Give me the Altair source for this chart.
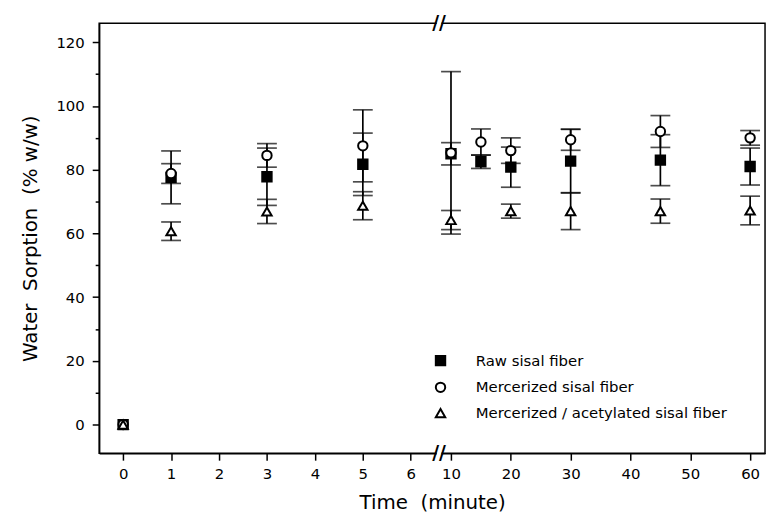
import altair as alt
import pandas as pd

series_names = ["Raw sisal fiber", "Mercerized sisal fiber", "Mercerized / acetylated sisal fiber"]

raw_time = [0, 1, 3, 5, 10, 15, 20, 30, 45, 60]
raw_value = [0, 77.6, 77.8, 81.7, 85.0, 82.5, 80.8, 82.7, 83.0, 81.0]
raw_err = [0, 8.3, 9.0, 9.8, 3.5, 2.1, 6.3, 10.0, 8.0, 5.8]

merc_time = [0, 1, 3, 5, 10, 15, 20, 30, 45, 60]
merc_value = [0, 78.8, 84.5, 87.5, 85.3, 88.7, 86.0, 89.4, 92.0, 90.0]
merc_err = [0, 3.1, 3.7, 11.3, 25.5, 4.1, 4.0, 3.3, 5.0, 2.3]

acet_time = [0, 1, 3, 5, 10, 20, 30, 45, 60]
acet_value = [0, 60.7, 66.9, 68.7, 64.2, 67.0, 67.0, 67.0, 67.2]
acet_err = [0, 2.9, 3.8, 4.4, 3.0, 2.2, 5.8, 3.8, 4.5]

tick_times = [0, 1, 2, 3, 4, 5, 6, 10, 20, 30, 40, 50, 60]
y_major = [0, 20, 40, 60, 80, 100, 120]
y_minor = [10, 30, 50, 70, 90, 110]

# broken time axis: 0-6 min linear, then 10-60 min compressed
SEG2_START = 6.839
SEG2_SCALE = 0.1248


def to_pos(t):
    return t if t <= 6.5 else SEG2_START + (t - 10) * SEG2_SCALE


rows = []
for name, ts, vs, es in [
    (series_names[0], raw_time, raw_value, raw_err),
    (series_names[1], merc_time, merc_value, merc_err),
    (series_names[2], acet_time, acet_value, acet_err),
]:
    for t, v, e in zip(ts, vs, es):
        rows.append({"series": name, "t": t, "pos": to_pos(t), "value": v,
                     "err": e, "lo": v - e, "hi": v + e})
df = pd.DataFrame(rows)

break_pos = 6.59
brk = pd.DataFrame({"pos": [break_pos], "a": [break_pos - 0.05], "b": [break_pos + 0.05]})

x_scale = alt.Scale(domain=[-0.5, 13.39], nice=False, zero=False)
y_scale = alt.Scale(domain=[-9, 126], nice=False, zero=False)

x_axis = alt.Axis(
    values=[to_pos(t) for t in tick_times],
    labelExpr=f"datum.value < 6.5 ? format(round(datum.value), 'd') : format(round(10 + (datum.value - {SEG2_START}) / {SEG2_SCALE}), 'd')",
    tickSize=7, labelPadding=6, titlePadding=12, grid=False,
)
X_TITLE = "Time\u00a0 (minute)"
Y_TITLE = "Water\u00a0 Sorption\u00a0 (% w/w)"


def xenc(field="pos"):
    return alt.X(f"{field}:Q", scale=x_scale, axis=x_axis, title=X_TITLE)


bars = alt.Chart(df).transform_filter("datum.err > 0").mark_errorbar(
    ticks=True, size=20, thickness=1.7, color="black"
).encode(
    x=xenc(),
    y=alt.Y("lo:Q", scale=y_scale, title=Y_TITLE,
            axis=alt.Axis(values=y_major, orient="left", tickSize=7, labelPadding=8,
                          titlePadding=16, grid=False)),
    y2="hi:Q",
)

legend = alt.Legend(
    title=None, orient="none", legendX=337, legendY=333, padding=0,
    labelFontSize=15, labelFont="DejaVu Sans", labelColor="black", labelLimit=0,
    labelOffset=28, rowPadding=8, symbolStrokeWidth=2,
    symbolSize=90, symbolOpacity=1,
)

points = alt.Chart(df).transform_calculate(
    idx="indexof(['Raw sisal fiber','Mercerized sisal fiber','Mercerized / acetylated sisal fiber'], datum.series)"
).mark_point(filled=False, strokeWidth=2, size=90, opacity=1).encode(
    x=xenc(),
    y=alt.Y("value:Q", scale=y_scale, axis=None),
    shape=alt.Shape("series:N", scale=alt.Scale(domain=series_names, range=["square", "circle", "triangle-up"]), legend=legend),
    fill=alt.Fill("series:N", scale=alt.Scale(domain=series_names, range=["black", "white", "white"]), legend=legend),
    stroke=alt.Stroke("series:N", scale=alt.Scale(domain=series_names, range=["black", "black", "black"]), legend=legend),
    order=alt.Order("idx:Q"),
)

minor = alt.Chart(pd.DataFrame({"v": y_minor})).mark_point(opacity=0).encode(
    y=alt.Y("v:Q", scale=y_scale,
            axis=alt.Axis(values=y_minor, orient="left", labels=False, domain=False, tickSize=4,
                          title=None, grid=False)),
)

gap_bottom = alt.Chart(brk).mark_rule(color="white", strokeWidth=5).encode(
    x=xenc("a"), x2="b:Q", y=alt.value(434))
gap_top = alt.Chart(brk).mark_rule(color="white", strokeWidth=5).encode(
    x=xenc("a"), x2="b:Q", y=alt.value(0))
slash_bottom = alt.Chart(brk).mark_text(text="//", fontSize=19, fontWeight="bold", font="DejaVu Sans",
                                        color="black", baseline="middle").encode(
    x=xenc(), y=alt.value(434))
slash_top = alt.Chart(brk).mark_text(text="//", fontSize=19, fontWeight="bold", font="DejaVu Sans",
                                     color="black", baseline="middle").encode(
    x=xenc(), y=alt.value(0))

chart = alt.layer(
    bars, points, minor, gap_bottom, gap_top, slash_bottom, slash_top
).resolve_axis(y="independent").properties(
    width=672, height=434,
    autosize=alt.AutoSizeParams(type="none"),
    padding={"left": 92, "top": 13, "right": 4, "bottom": 60},
    background="white",
).configure_view(stroke="black", strokeWidth=1.5).configure_axis(
    labelFont="DejaVu Sans", labelFontSize=15, labelColor="black",
    titleFont="DejaVu Sans", titleFontSize=20, titleFontWeight="normal", titleColor="black",
    domainColor="black", domainWidth=1.5, tickColor="black", tickWidth=1.5,
)

chart.save("out.html", embed_options={"renderer": "svg", "actions": False})
